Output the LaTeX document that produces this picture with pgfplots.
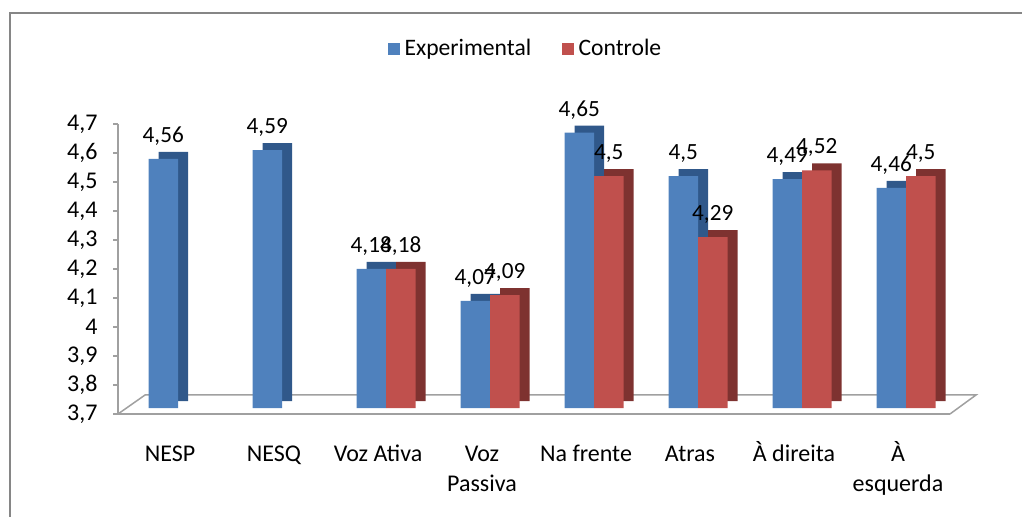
\documentclass[border=0pt]{standalone}
\usepackage{pgfplots}
\pgfplotsset{compat=1.18}
\usepackage{pgfplotstable}
\usepackage{fontspec}
\setmainfont{Carlito}
\definecolor{expF}{HTML}{4F81BD}
\definecolor{expD}{HTML}{30588A}
\definecolor{conF}{HTML}{C0504D}
\definecolor{conD}{HTML}{7E3230}
\definecolor{framec}{HTML}{868686}
\definecolor{floorc}{HTML}{A0A0A0}

\pgfplotstableread{
x v
0 4.56
1 4.59
2 4.18
3 4.07
4 4.65
5 4.5
6 4.49
7 4.46
}\exptab
\pgfplotstableread{
x v
2 4.18
3 4.09
4 4.5
5 4.29
6 4.52
7 4.5
}\contab

\begin{document}
\begin{tikzpicture}
\path[use as bounding box] (-59pt,-51.5pt) rectangle (452pt,207pt);
\draw[framec, line width=1pt] (-54pt,-60pt) -- (-54pt,200.5pt) -- (460pt,200.5pt);
\begin{axis}[
  at={(0pt,0pt)}, anchor=south west, scale only axis,
  width=416pt, height=145pt,
  xmin=-0.577, xmax=7.423, ymin=3.7, ymax=4.7,
  clip=false,
  ybar, bar width=14.75pt,
  axis lines*=left,
  axis line style={floorc, line width=0.75pt},
  ytick={3.7,3.8,3.9,4.0,4.1,4.2,4.3,4.4,4.5,4.6,4.7},
  yticklabel style={/pgf/number format/fixed, /pgf/number format/use comma, /pgf/number format/precision=1},
  /pgf/number format/assume math mode=true,
  tick align=outside, major tick length=2.5pt,
  ytick style={floorc, line width=0.75pt},
  yticklabel style={font=\fontsize{12}{14}\selectfont, xshift=-4.2pt},
  xtick={0,1,2,3,4,5,6,7},
  xtick style={draw=none},
  xticklabels={{\vphantom{À}NESP},{\vphantom{À}NESQ},{\vphantom{À}Voz Ativa},{\vphantom{À}Voz\\Passiva},{\vphantom{À}Na frente},{\vphantom{À}Atras},{À direita},{À\\esquerda}},
  xticklabel style={font=\fontsize{12}{15}\selectfont, align=center, xshift=-4pt, yshift=-7.6pt},
  legend style={at={(0.4916,1.2586)}, anchor=center, draw=none, fill=none,
    font=\fontsize{11.8}{13}\selectfont,
    /tikz/every even column/.append style={column sep=13pt},
    nodes={inner sep=2.4pt}},
  legend columns=2,
  legend cell align=left,
  nodes near coords={\pgfmathprintnumber[fixed,use comma,precision=2,assume math mode=true]{\pgfplotspointmeta}},
  every node near coord/.append style={font=\fontsize{11.6}{13}\selectfont, anchor=base, yshift=8.2pt, text=black},
]
\addlegendimage{legend image code/.code={\fill[expF] (0pt,-2.75pt) rectangle (5.5pt,2.75pt);}}
\addlegendentry{Experimental}
\addlegendimage{legend image code/.code={\fill[conF] (0pt,-2.75pt) rectangle (5.5pt,2.75pt);}}
\addlegendentry{Controle}

\draw[floorc, line width=0.75pt] (axis cs:-0.577,3.7) -- (axis cs:-0.317,3.7655) -- (axis cs:7.673,3.7655) -- (axis cs:7.423,3.7);

\addplot[forget plot, fill=expD, draw=none, bar shift=-7.375pt, xshift=5pt, yshift=6.4pt, nodes near coords=\empty] table[x=x,y=v]{\exptab};
\addplot[forget plot, fill=expF, draw=none, bar shift=-7.375pt, yshift=2.9pt] table[x=x,y=v]{\exptab};
\addplot[forget plot, fill=conD, draw=none, bar shift=7.375pt, xshift=5pt, yshift=6.4pt, nodes near coords=\empty] table[x=x,y=v]{\contab};
\addplot[forget plot, fill=conF, draw=none, bar shift=7.375pt, yshift=2.9pt] table[x=x,y=v]{\contab};
\end{axis}
\end{tikzpicture}
\end{document}
